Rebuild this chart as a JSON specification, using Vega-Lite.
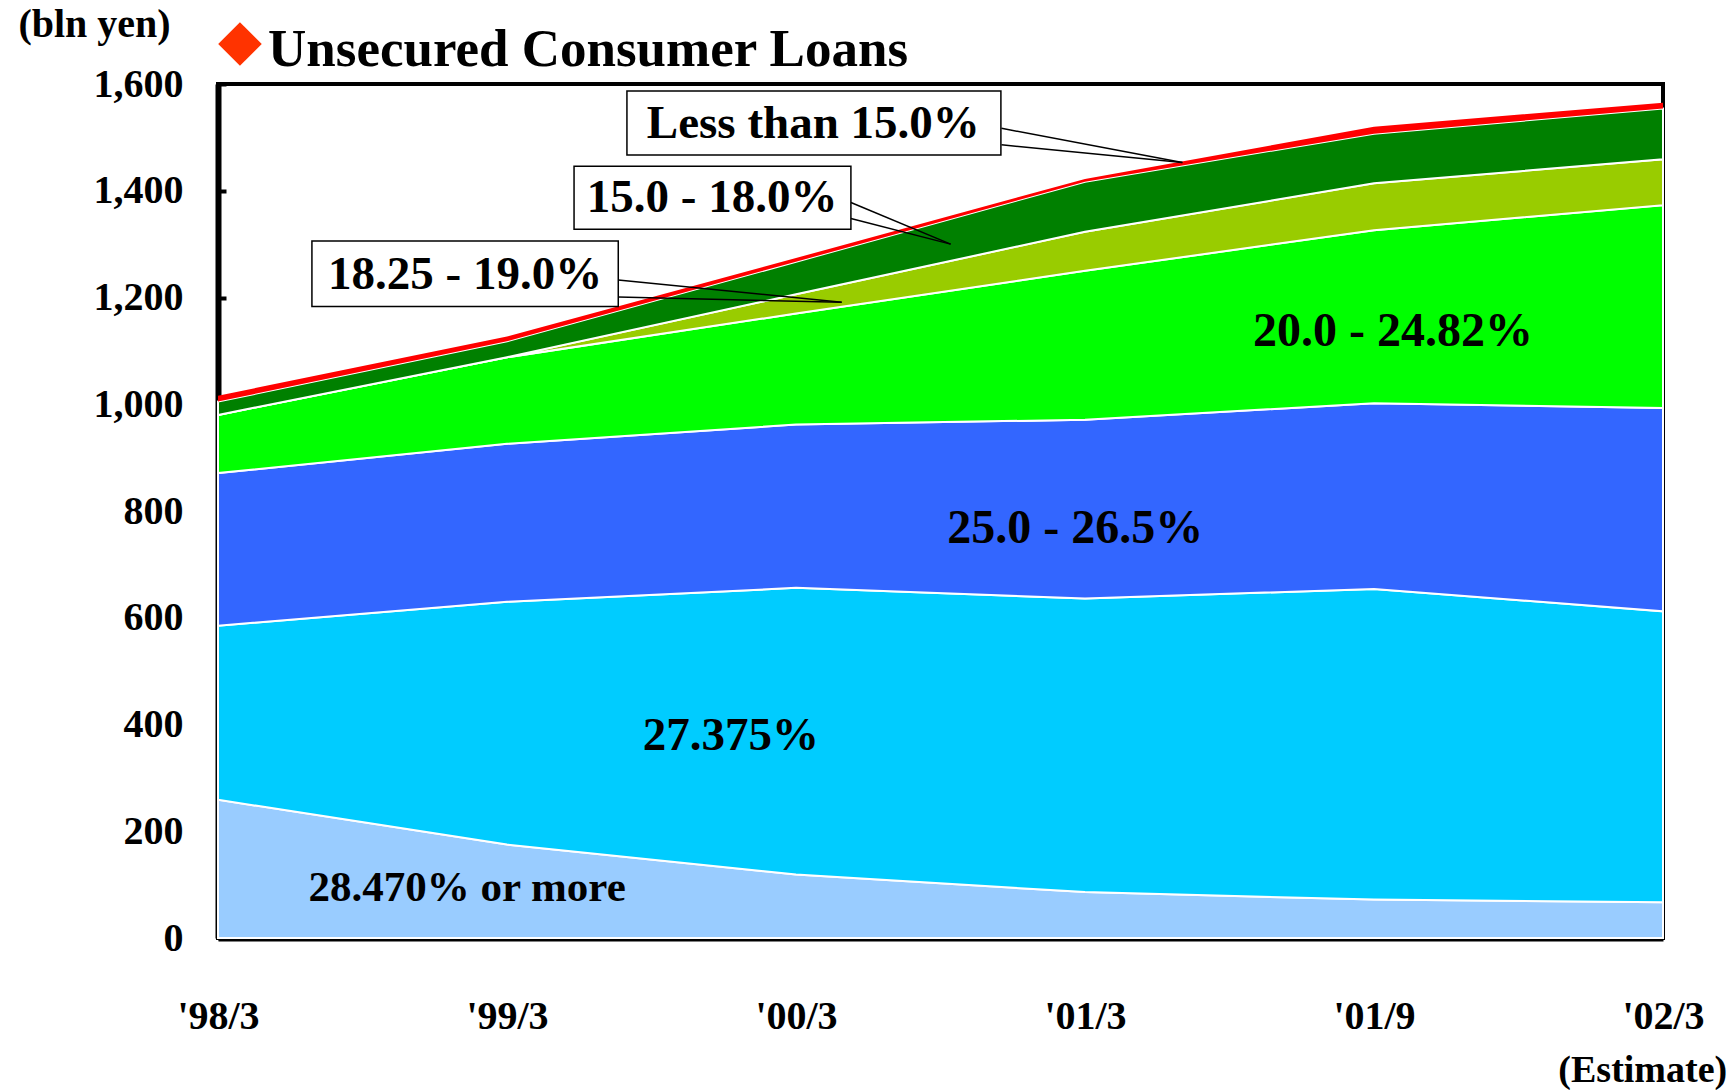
{
  "$schema": "https://vega.github.io/schema/vega-lite/v6.json",
  "autosize": {"type": "none"},
  "width": 1445,
  "height": 854,
  "padding": {"left": 218, "top": 84, "right": 72, "bottom": 152},
  "background": "white",
  "config": {
    "view": {"stroke": "black", "strokeWidth": 4},
    "font": "Liberation Serif",
    "text": {"font": "Liberation Serif", "fontWeight": "bold", "color": "black"}
  },
  "title": {
    "text": "Unsecured Consumer Loans",
    "anchor": "start",
    "frame": "group",
    "dx": 50,
    "offset": -115,
    "baseline": "alphabetic",
    "fontSize": 53,
    "font": "Liberation Serif",
    "fontWeight": "bold",
    "color": "black"
  },
  "data": {"values": [{}]},
  "datasets": {
    "loans": [
      {"period": "'98/3", "t": 0, "band": "28.470% or more", "layer": 1, "value": 259},
      {"period": "'98/3", "t": 0, "band": "27.375%", "layer": 2, "value": 326},
      {"period": "'98/3", "t": 0, "band": "25.0 - 26.5%", "layer": 3, "value": 286},
      {"period": "'98/3", "t": 0, "band": "20.0 - 24.82%", "layer": 4, "value": 109},
      {"period": "'98/3", "t": 0, "band": "18.25 - 19.0%", "layer": 5, "value": 0},
      {"period": "'98/3", "t": 0, "band": "15.0 - 18.0%", "layer": 6, "value": 25},
      {"period": "'98/3", "t": 0, "band": "Less than 15.0%", "layer": 7, "value": 11},
      {"period": "'99/3", "t": 1, "band": "28.470% or more", "layer": 1, "value": 175},
      {"period": "'99/3", "t": 1, "band": "27.375%", "layer": 2, "value": 455},
      {"period": "'99/3", "t": 1, "band": "25.0 - 26.5%", "layer": 3, "value": 296},
      {"period": "'99/3", "t": 1, "band": "20.0 - 24.82%", "layer": 4, "value": 162},
      {"period": "'99/3", "t": 1, "band": "18.25 - 19.0%", "layer": 5, "value": 0},
      {"period": "'99/3", "t": 1, "band": "15.0 - 18.0%", "layer": 6, "value": 30},
      {"period": "'99/3", "t": 1, "band": "Less than 15.0%", "layer": 7, "value": 9},
      {"period": "'00/3", "t": 2, "band": "28.470% or more", "layer": 1, "value": 119},
      {"period": "'00/3", "t": 2, "band": "27.375%", "layer": 2, "value": 537},
      {"period": "'00/3", "t": 2, "band": "25.0 - 26.5%", "layer": 3, "value": 306},
      {"period": "'00/3", "t": 2, "band": "20.0 - 24.82%", "layer": 4, "value": 208},
      {"period": "'00/3", "t": 2, "band": "18.25 - 19.0%", "layer": 5, "value": 36},
      {"period": "'00/3", "t": 2, "band": "15.0 - 18.0%", "layer": 6, "value": 61},
      {"period": "'00/3", "t": 2, "band": "Less than 15.0%", "layer": 7, "value": 7},
      {"period": "'01/3", "t": 3, "band": "28.470% or more", "layer": 1, "value": 86},
      {"period": "'01/3", "t": 3, "band": "27.375%", "layer": 2, "value": 550},
      {"period": "'01/3", "t": 3, "band": "25.0 - 26.5%", "layer": 3, "value": 335},
      {"period": "'01/3", "t": 3, "band": "20.0 - 24.82%", "layer": 4, "value": 279},
      {"period": "'01/3", "t": 3, "band": "18.25 - 19.0%", "layer": 5, "value": 73},
      {"period": "'01/3", "t": 3, "band": "15.0 - 18.0%", "layer": 6, "value": 94},
      {"period": "'01/3", "t": 3, "band": "Less than 15.0%", "layer": 7, "value": 5},
      {"period": "'01/9", "t": 4, "band": "28.470% or more", "layer": 1, "value": 72},
      {"period": "'01/9", "t": 4, "band": "27.375%", "layer": 2, "value": 582},
      {"period": "'01/9", "t": 4, "band": "25.0 - 26.5%", "layer": 3, "value": 348},
      {"period": "'01/9", "t": 4, "band": "20.0 - 24.82%", "layer": 4, "value": 324},
      {"period": "'01/9", "t": 4, "band": "18.25 - 19.0%", "layer": 5, "value": 88},
      {"period": "'01/9", "t": 4, "band": "15.0 - 18.0%", "layer": 6, "value": 93},
      {"period": "'01/9", "t": 4, "band": "Less than 15.0%", "layer": 7, "value": 13},
      {"period": "'02/3", "t": 5, "band": "28.470% or more", "layer": 1, "value": 67},
      {"period": "'02/3", "t": 5, "band": "27.375%", "layer": 2, "value": 545},
      {"period": "'02/3", "t": 5, "band": "25.0 - 26.5%", "layer": 3, "value": 381},
      {"period": "'02/3", "t": 5, "band": "20.0 - 24.82%", "layer": 4, "value": 380},
      {"period": "'02/3", "t": 5, "band": "18.25 - 19.0%", "layer": 5, "value": 86},
      {"period": "'02/3", "t": 5, "band": "15.0 - 18.0%", "layer": 6, "value": 95},
      {"period": "'02/3", "t": 5, "band": "Less than 15.0%", "layer": 7, "value": 11}
    ]
  },
  "layer": [
    {
      "data": {"name": "loans"},
      "mark": {"type": "area", "strokeWidth": 2, "interpolate": "linear"},
      "encoding": {
        "x": {
          "field": "t",
          "type": "quantitative",
          "scale": {"domain": [0, 5], "nice": false, "zero": false},
          "axis": {
            "values": [0, 1, 2, 3, 4, 5],
            "labelExpr": "[\"'98/3\",\"'99/3\",\"'00/3\",\"'01/3\",\"'01/9\",\"'02/3\"][datum.value]",
            "title": null,
            "grid": false,
            "domainColor": "black",
            "domainWidth": 6,
            "tickColor": "black",
            "tickWidth": 3,
            "tickSize": -12,
            "labelPadding": 70,
            "labelFontSize": 40,
            "labelFont": "Liberation Serif",
            "labelFontWeight": "bold",
            "labelColor": "black",
            "labelFlush": false,
            "labelOverlap": false
          }
        },
        "y": {
          "field": "value",
          "type": "quantitative",
          "stack": "zero",
          "scale": {"domain": [0, 1600], "nice": false},
          "axis": {
            "values": [0, 200, 400, 600, 800, 1000, 1200, 1400, 1600],
            "format": ",.0f",
            "title": "(bln yen)",
            "titleAngle": 0,
            "titleX": -124,
            "titleY": -60,
            "titleAlign": "center",
            "titleBaseline": "middle",
            "titleFontSize": 40,
            "titleFont": "Liberation Serif",
            "titleFontWeight": "bold",
            "titleColor": "black",
            "grid": false,
            "domainColor": "black",
            "domainWidth": 6,
            "tickColor": "black",
            "tickWidth": 4,
            "tickSize": -8,
            "labelPadding": 43,
            "labelFontSize": 40,
            "labelFont": "Liberation Serif",
            "labelFontWeight": "bold",
            "labelColor": "black",
            "labelOverlap": false
          }
        },
        "color": {
          "field": "band",
          "type": "nominal",
          "scale": {
            "domain": ["28.470% or more", "27.375%", "25.0 - 26.5%", "20.0 - 24.82%", "18.25 - 19.0%", "15.0 - 18.0%", "Less than 15.0%"],
            "range": ["#99CCFF", "#00CCFF", "#3366FF", "#00FF00", "#99CC00", "#008000", "#FF0000"]
          },
          "legend": null
        },
        "stroke": {
          "condition": {"test": "datum.band === 'Less than 15.0%'", "value": "transparent"},
          "value": "white"
        },
        "order": {"field": "layer", "type": "quantitative"}
      }
    },
    {"mark": {"type": "rule", "color": "black", "strokeWidth": 1.5},
     "encoding": {"x": {"datum": 2.711}, "y": {"datum": 1517}, "x2": {"datum": 3.337}, "y2": {"datum": 1453}}},
    {"mark": {"type": "rule", "color": "black", "strokeWidth": 1.5},
     "encoding": {"x": {"datum": 2.711}, "y": {"datum": 1486}, "x2": {"datum": 3.337}, "y2": {"datum": 1453}}},
    {"mark": {"type": "rule", "color": "black", "strokeWidth": 1.5},
     "encoding": {"x": {"datum": 2.19}, "y": {"datum": 1378}, "x2": {"datum": 2.535}, "y2": {"datum": 1300}}},
    {"mark": {"type": "rule", "color": "black", "strokeWidth": 1.5},
     "encoding": {"x": {"datum": 2.19}, "y": {"datum": 1348}, "x2": {"datum": 2.535}, "y2": {"datum": 1300}}},
    {"mark": {"type": "rule", "color": "black", "strokeWidth": 1.5},
     "encoding": {"x": {"datum": 1.385}, "y": {"datum": 1233}, "x2": {"datum": 2.158}, "y2": {"datum": 1191}}},
    {"mark": {"type": "rule", "color": "black", "strokeWidth": 1.5},
     "encoding": {"x": {"datum": 1.385}, "y": {"datum": 1201}, "x2": {"datum": 2.158}, "y2": {"datum": 1191}}},
    {"mark": {"type": "rect", "fill": "white", "stroke": "black", "strokeWidth": 1.5},
     "encoding": {"x": {"datum": 1.415}, "x2": {"datum": 2.709}, "y": {"datum": 1587}, "y2": {"datum": 1467}}},
    {"mark": {"type": "rect", "fill": "white", "stroke": "black", "strokeWidth": 1.5},
     "encoding": {"x": {"datum": 1.232}, "x2": {"datum": 2.19}, "y": {"datum": 1446}, "y2": {"datum": 1328}}},
    {"mark": {"type": "rect", "fill": "white", "stroke": "black", "strokeWidth": 1.5},
     "encoding": {"x": {"datum": 0.325}, "x2": {"datum": 1.385}, "y": {"datum": 1306}, "y2": {"datum": 1183}}},
    {"mark": {"type": "text", "text": "Less than 15.0%", "fontSize": 47},
     "encoding": {"x": {"datum": 2.06}, "y": {"datum": 1525}}},
    {"mark": {"type": "text", "text": "15.0 - 18.0%", "fontSize": 47},
     "encoding": {"x": {"datum": 1.71}, "y": {"datum": 1386}}},
    {"mark": {"type": "text", "text": "18.25 - 19.0%", "fontSize": 47},
     "encoding": {"x": {"datum": 0.855}, "y": {"datum": 1243}}},
    {"mark": {"type": "text", "text": "20.0 - 24.82%", "fontSize": 48},
     "encoding": {"x": {"datum": 4.066}, "y": {"datum": 1135}}},
    {"mark": {"type": "text", "text": "25.0 - 26.5%", "fontSize": 48},
     "encoding": {"x": {"datum": 2.966}, "y": {"datum": 766}}},
    {"mark": {"type": "text", "text": "27.375%", "fontSize": 47},
     "encoding": {"x": {"datum": 1.775}, "y": {"datum": 378}}},
    {"mark": {"type": "text", "text": "28.470% or more", "fontSize": 43},
     "encoding": {"x": {"datum": 0.862}, "y": {"datum": 93}}},
    {"mark": {"type": "text", "text": "(Estimate)", "fontSize": 38, "clip": false},
     "encoding": {"x": {"datum": 4.93}, "y": {"datum": -249}}},
    {"mark": {"type": "point", "shape": "diamond", "filled": true, "color": "#FF3300", "opacity": 1, "size": 1900, "clip": false},
     "encoding": {"x": {"datum": 0.076}, "y": {"datum": 1675}}}
  ]
}
